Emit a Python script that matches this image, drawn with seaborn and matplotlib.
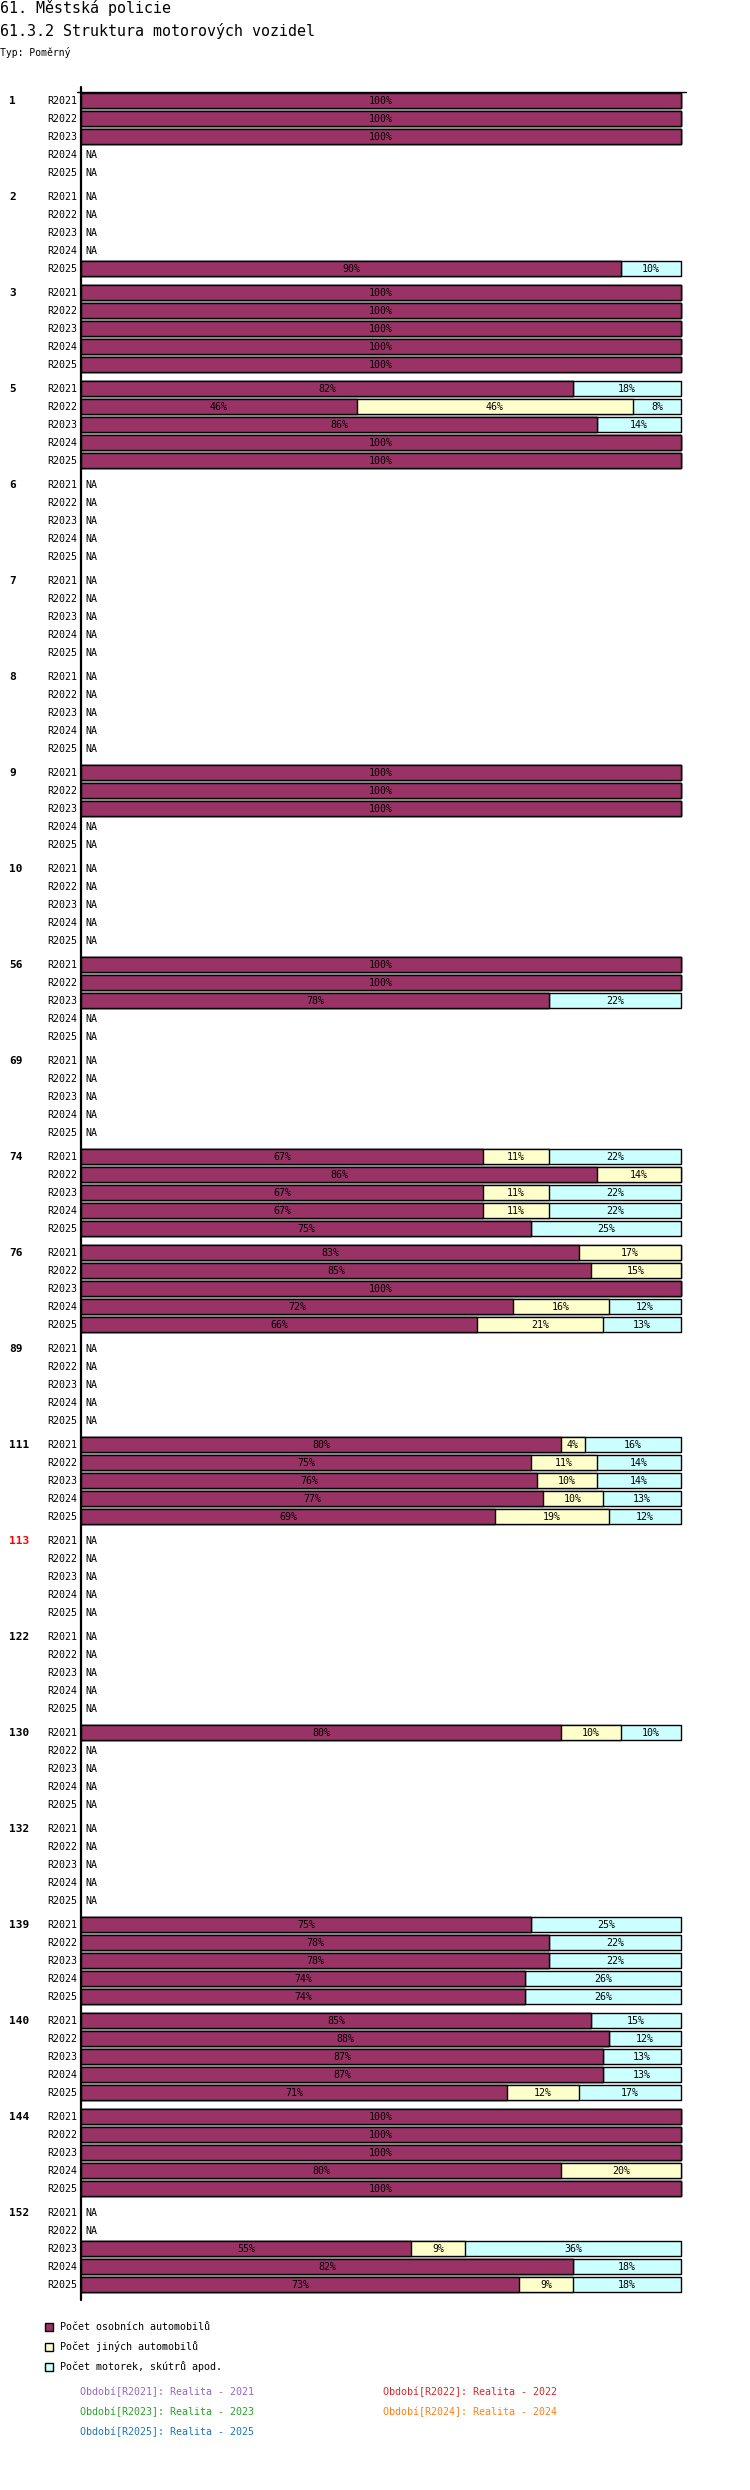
import numpy as np
import pandas as pd
import seaborn as sns
import matplotlib.pyplot as plt
from matplotlib.patches import Rectangle

nan = np.nan

# Groups (row blocks) and periods
groups = ['1', '2', '3', '5', '6', '7', '8', '9', '10', '56', '69', '74', '76',
          '89', '111', '113', '122', '130', '132', '139', '140', '144', '152']
periods = ['R2021', 'R2022', 'R2023', 'R2024', 'R2025']
highlight = ['113']

# Share of passenger cars (%)
osobni = [
    [100, 100, 100, nan, nan],
    [nan, nan, nan, nan, 90],
    [100, 100, 100, 100, 100],
    [82, 46, 86, 100, 100],
    [nan, nan, nan, nan, nan],
    [nan, nan, nan, nan, nan],
    [nan, nan, nan, nan, nan],
    [100, 100, 100, nan, nan],
    [nan, nan, nan, nan, nan],
    [100, 100, 78, nan, nan],
    [nan, nan, nan, nan, nan],
    [67, 86, 67, 67, 75],
    [83, 85, 100, 72, 66],
    [nan, nan, nan, nan, nan],
    [80, 75, 76, 77, 69],
    [nan, nan, nan, nan, nan],
    [nan, nan, nan, nan, nan],
    [80, nan, nan, nan, nan],
    [nan, nan, nan, nan, nan],
    [75, 78, 78, 74, 74],
    [85, 88, 87, 87, 71],
    [100, 100, 100, 80, 100],
    [nan, nan, 55, 82, 73],
]

# Share of other cars (%)
jine = [
    [0, 0, 0, nan, nan],
    [nan, nan, nan, nan, 0],
    [0, 0, 0, 0, 0],
    [0, 46, 0, 0, 0],
    [nan, nan, nan, nan, nan],
    [nan, nan, nan, nan, nan],
    [nan, nan, nan, nan, nan],
    [0, 0, 0, nan, nan],
    [nan, nan, nan, nan, nan],
    [0, 0, 0, nan, nan],
    [nan, nan, nan, nan, nan],
    [11, 14, 11, 11, 0],
    [17, 15, 0, 16, 21],
    [nan, nan, nan, nan, nan],
    [4, 11, 10, 10, 19],
    [nan, nan, nan, nan, nan],
    [nan, nan, nan, nan, nan],
    [10, nan, nan, nan, nan],
    [nan, nan, nan, nan, nan],
    [0, 0, 0, 0, 0],
    [0, 0, 0, 0, 12],
    [0, 0, 0, 20, 0],
    [nan, nan, 9, 0, 9],
]

# Share of motorbikes, scooters etc. (%)
motorky = [
    [0, 0, 0, nan, nan],
    [nan, nan, nan, nan, 10],
    [0, 0, 0, 0, 0],
    [18, 8, 14, 0, 0],
    [nan, nan, nan, nan, nan],
    [nan, nan, nan, nan, nan],
    [nan, nan, nan, nan, nan],
    [0, 0, 0, nan, nan],
    [nan, nan, nan, nan, nan],
    [0, 0, 22, nan, nan],
    [nan, nan, nan, nan, nan],
    [22, 0, 22, 22, 25],
    [0, 0, 0, 12, 13],
    [nan, nan, nan, nan, nan],
    [16, 14, 14, 13, 12],
    [nan, nan, nan, nan, nan],
    [nan, nan, nan, nan, nan],
    [10, nan, nan, nan, nan],
    [nan, nan, nan, nan, nan],
    [25, 22, 22, 26, 26],
    [15, 12, 13, 13, 17],
    [0, 0, 0, 0, 0],
    [nan, nan, 36, 18, 18],
]

series_names = ['Počet osobních automobilů', 'Počet jiných automobilů',
                'Počet motorek, skútrů apod.']
series_colors = ['#993366', '#ffffcc', '#ccffff']
period_texts = ['Období[R2021]: Realita - 2021', 'Období[R2022]: Realita - 2022',
                'Období[R2023]: Realita - 2023', 'Období[R2024]: Realita - 2024',
                'Období[R2025]: Realita - 2025']
period_colors = ['#9467bd', '#d62728', '#2ca02c', '#ff7f0e', '#1f77b4']

# long table, one row per group/period
rows = []
for gi, g in enumerate(groups):
    for pi, p in enumerate(periods):
        rows.append({'group': g, 'period': p,
                     'pos': 100 + gi * 96 + pi * 18,
                     'o': osobni[gi][pi], 'j': jine[gi][pi], 'm': motorky[gi][pi]})
df = pd.DataFrame(rows)
df['c1'] = df['o']
df['c2'] = df['o'] + df['j']
df['c3'] = df['o'] + df['j'] + df['m']

sns.set_style('white')
plt.rcParams['font.family'] = ['DejaVu Sans Mono', 'DejaVu Sans']
plt.rcParams['text.color'] = 'black'

W, H = 750, 2490
fig = plt.figure(figsize=(W / 100, H / 100), dpi=100)
ax_top, ax_bot = 92, 2300
ax = fig.add_axes([81 / W, 1 - ax_bot / H, 600 / W, (ax_bot - ax_top) / H])

# stacked bars: draw cumulative totals back to front
for col, color in [('c3', series_colors[2]), ('c2', series_colors[1]), ('c1', series_colors[0])]:
    sns.barplot(data=df.dropna(subset=[col]), x=col, y='pos', orient='h',
                native_scale=True, color=color, saturation=1, edgecolor='black',
                linewidth=1, width=15 / 18, errorbar=None, ax=ax)
for p in ax.patches:
    p.set_clip_on(False)

ax.set_xlim(0, 100)
ax.set_ylim(ax_bot, ax_top)
ax.set_axis_off()

# axis lines
ax.plot([0, 0], [ax_top - 5, ax_bot], color='black', lw=1.6, clip_on=False, zorder=5)
ax.plot([-0.7, 100.8], [ax_top, ax_top], color='black', lw=1, clip_on=False, zorder=5)

fs = 7.2
for _, r in df.iterrows():
    y = r['pos'] + 1
    ax.text(-0.7, y, r['period'], ha='right', va='center', fontsize=fs, color='black')
    if np.isnan(r['o']):
        ax.text(0.7, y, 'NA', ha='left', va='center', fontsize=fs, color='black')
        continue
    start = 0
    for v in [r['o'], r['j'], r['m']]:
        if v > 0:
            ax.text(start + v / 2, y, f'{int(v)}%', ha='center', va='center',
                    fontsize=fs, color='black', zorder=6)
        start += v

for gi, g in enumerate(groups):
    ax.text(-12, 100 + gi * 96 + 1, g, ha='left', va='center', fontsize=8,
            fontweight='bold', color='red' if g in highlight else 'black')

# titles
fig.text(0, 1 - 8 / H, '61. Městská policie', fontsize=10.8, va='center', ha='left')
fig.text(0, 1 - 31 / H, '61.3.2 Struktura motorových vozidel', fontsize=10.8, va='center', ha='left')
fig.text(0, 1 - 52 / H, 'Typ: Poměrný', fontsize=7, va='center', ha='left')

# legend
for i, (name, color) in enumerate(zip(series_names, series_colors)):
    yc = 2327 + i * 20
    fig.add_artist(Rectangle((45 / W, 1 - (yc + 4) / H), 8 / W, 8 / H,
                             facecolor=color, edgecolor='black', lw=1,
                             transform=fig.transFigure))
    fig.text(60 / W, 1 - yc / H, name, fontsize=fs, va='center', ha='left')

for i, (t, c) in enumerate(zip(period_texts, period_colors)):
    x = 80 if i % 2 == 0 else 383
    yc = 2392 + (i // 2) * 20
    fig.text(x / W, 1 - yc / H, t, fontsize=fs, va='center', ha='left', color=c)

fig.savefig('out.png', dpi=100)
